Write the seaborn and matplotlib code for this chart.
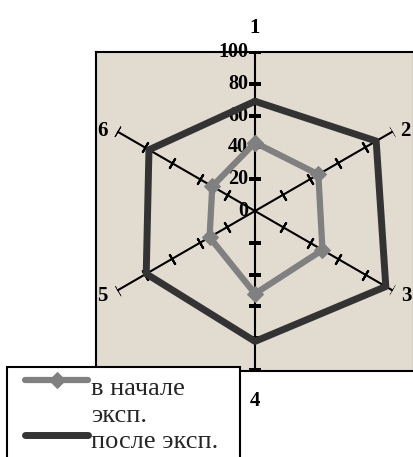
import matplotlib
matplotlib.use("Agg")
import matplotlib.pyplot as plt
from matplotlib.legend_handler import HandlerLine2D
from matplotlib.patches import Rectangle
import numpy as np
import pandas as pd
import seaborn as sns

# data
categories = ["1", "2", "3", "4", "5", "6"]
before = [43, 46, 49, 52, 33, 31]
after = [69, 88, 95, 82, 79, 77]
r_ticks = [0, 20, 40, 60, 80, 100]
label_before = "в начале\nэксп."
label_after = "после эксп."

sns.set_theme(style="white")
plt.rcParams["font.family"] = ["Liberation Serif", "DejaVu Serif"]

W, H = 414, 457
fig = plt.figure(figsize=(W / 100, H / 100), dpi=100)

# plot area behind the radar
bg = fig.add_axes([96 / W, 1 - 371 / H, 318 / W, 319 / H])
bg.set_facecolor("#e2dbcf")
bg.set_xticks([])
bg.set_yticks([])
for s in bg.spines.values():
    s.set_color("black")
    s.set_linewidth(1.5)

# polar axes centred on (255, 211) px, radius 159 px
cx, cy, R = 255, 211, 159
ax = fig.add_axes([(cx - R) / W, 1 - (cy + R) / H, 2 * R / W, 2 * R / H],
                  projection="polar")
ax.set_facecolor("none")
ax.set_theta_zero_location("N")
ax.set_theta_direction(-1)
ax.set_ylim(0, 100)
ax.grid(False)
ax.spines["polar"].set_visible(False)
ax.set_xticks([])
ax.set_yticks([])

n = len(categories)
angles = np.arange(n) * 2 * np.pi / n

# spokes with cross ticks
for a in angles:
    ax.plot([a, a], [0, 100], color="black", lw=1.5, zorder=2)
    rot = 90 - np.degrees(a)
    ax.plot([a] * 5, r_ticks[1:], ls="none", marker=(2, 2, rot),
            markersize=8.5, markeredgewidth=1.5, color="black", zorder=2)

# value labels along spoke 1
for v in r_ticks:
    ax.annotate(str(v), xy=(0, v), xytext=(-5, 0), textcoords="offset points",
                ha="right", va="center", fontsize=14.5, fontweight="bold",
                color="black")

# category labels (offsets in points from the spoke end)
offs = [(0, 17), (9, 0), (10, -4), (0, -22), (-11, -4), (-11, 0)]
for a, c, o in zip(angles, categories, offs):
    ax.annotate(c, xy=(a, 100), xytext=o, textcoords="offset points",
                ha="center", va="center", fontsize=15, fontweight="bold",
                color="black")

theta = np.append(angles, 2 * np.pi)
df = pd.DataFrame({
    "theta": np.concatenate([theta, theta]),
    "value": before + before[:1] + after + after[:1],
    "series": [label_before] * (n + 1) + [label_after] * (n + 1),
})

sns.lineplot(data=df[df.series == label_after], x="theta", y="value",
             color="#333333", lw=5, sort=False, ax=ax, label=label_after,
             legend=False, zorder=3)
sns.lineplot(data=df[df.series == label_before], x="theta", y="value",
             color="#808080", lw=4.5, marker="D", markersize=8,
             markeredgecolor="#808080", sort=False, ax=ax,
             label=label_before, legend=False, zorder=4)
ax.set_xlabel("")
ax.set_ylabel("")
ax.set_ylim(0, 100)


class RaisedLine(HandlerLine2D):
    # legend handle sitting level with the first text line
    def __init__(self, dy, **kw):
        super().__init__(**kw)
        self.dy = dy

    def create_artists(self, legend, orig_handle, xdescent, ydescent,
                       width, height, fontsize, trans):
        return super().create_artists(legend, orig_handle, xdescent,
                                      ydescent - self.dy, width, height,
                                      fontsize, trans)


# legend frame (runs past the bottom edge like the reference)
fig.patches.append(Rectangle((7 / W, -0.05), 233 / W, 1 - 367 / H + 0.05,
                             transform=fig.transFigure, facecolor="white",
                             edgecolor="black", lw=1.5, zorder=9))

h, l = ax.get_legend_handles_labels()
hb = h[l.index(label_before)]
ha = h[l.index(label_after)]
leg = fig.legend([hb, ha], [label_before, label_after],
                 loc="upper left", bbox_to_anchor=(25 / W, 1 - 378 / H),
                 frameon=False, fontsize=19, handlelength=2.4,
                 handletextpad=0.1, borderpad=0, borderaxespad=0,
                 labelspacing=0.15, handleheight=0.5,
                 handler_map={hb: RaisedLine(32), ha: RaisedLine(7)})
for t in leg.get_texts():
    t.set_linespacing(1.3)
leg.set_zorder(10)

fig.savefig("out.png", dpi=100)
